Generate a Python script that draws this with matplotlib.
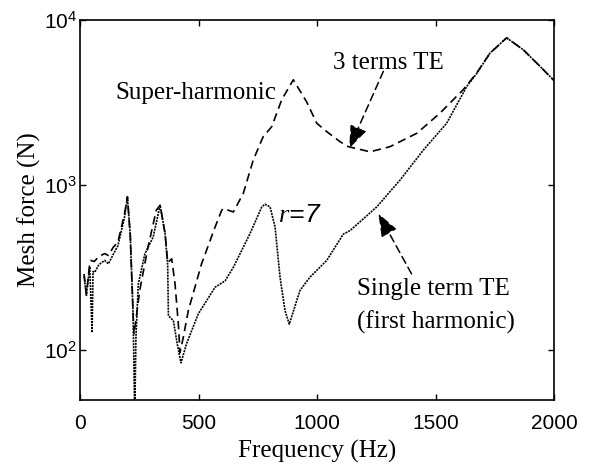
import matplotlib
matplotlib.use("Agg")
import matplotlib.pyplot as plt
from matplotlib.ticker import FixedLocator, NullLocator

plt.rcParams['mathtext.fontset'] = 'custom'
plt.rcParams['mathtext.rm'] = 'Liberation Sans'
plt.rcParams['mathtext.it'] = 'Liberation Serif:italic'
plt.rcParams['mathtext.sf'] = 'Liberation Sans:italic'

# 3 terms TE (dashed)
freq_3terms = [17, 27, 41, 45, 60, 80, 104, 120, 140, 160, 188, 200, 212, 224, 228,
               235, 252, 287, 322, 338, 359, 370, 387, 401, 415, 422, 436, 457, 513,
               570, 598, 605, 647, 689, 731, 773, 809, 851, 900, 956, 999, 1041, 1097,
               1132, 1224, 1308, 1421, 1519, 1617, 1674, 1730, 1800, 1870, 1941, 2000]
force_3terms = [290, 220, 334, 350, 345, 370, 385, 375, 420, 452, 673, 849, 500, 166, 125,
                150, 230, 422, 705, 756, 509, 340, 358, 252, 144, 97, 120, 174, 334,
                558, 705, 722, 688, 891, 1420, 1966, 2260, 3287, 4345, 3200, 2370, 2110, 1834,
                1710, 1592, 1710, 2060, 2730, 3785, 4780, 6300, 7800, 6610, 5240, 4300]

# Single term TE (first harmonic)
freq_single = [17, 27, 41, 51, 55, 62, 80, 104, 120, 140, 160, 188, 200, 212, 224, 231,
               236, 246, 274, 309, 338, 359, 370, 373, 394, 410, 426, 450, 499, 570, 612,
               647, 717, 767, 781, 802, 823, 844, 865, 883, 928, 970, 1041, 1111, 1139,
               1252, 1350, 1449, 1547, 1632, 1674, 1730, 1800, 1870, 1941, 2000]
force_single = [280, 215, 320, 128, 300, 297, 330, 350, 334, 380, 430, 641, 849, 500, 166, 40,
                120, 252, 385, 486, 756, 509, 327, 162, 151, 110, 84, 110, 166, 241, 263,
                318, 508, 738, 766, 738, 558, 277, 174, 144, 230, 277, 350, 505, 530,
                738, 1072, 1632, 2370, 3960, 4750, 6300, 7800, 6610, 5240, 4300]

x_ticks = [0, 500, 1000, 1500, 2000]
y_ticks = [1e2, 1e3, 1e4]
y_tick_labels = [r'$10^2$', r'$10^3$', r'$10^4$']

fig = plt.figure(figsize=(5.9, 4.7), dpi=100)
ax = fig.add_axes([80/590, 70/470, 474/590, 380/470])

ax.plot(freq_single, force_single, color='black', lw=1.2, ls=(0, (1.2, 0.6)))
ax.plot(freq_3terms, force_3terms, color='black', lw=1.2, ls=(0, (5, 3)))

ax.set_yscale('log')
ax.set_xlim(0, 2000)
ax.set_ylim(50, 1e4)
ax.xaxis.set_major_locator(FixedLocator(x_ticks))
ax.yaxis.set_major_locator(FixedLocator(y_ticks))
ax.yaxis.set_minor_locator(NullLocator())
ax.set_yticklabels(y_tick_labels)
ax.tick_params(direction='in', length=4, width=1, top=True, right=True, labelsize=15)
ax.tick_params(axis='x', pad=10)
ax.tick_params(axis='y', pad=2)
for lab in ax.get_xticklabels():
    lab.set_fontfamily('Liberation Sans')
for sp in ax.spines.values():
    sp.set_linewidth(1.2)

serif = 'Liberation Serif'
ax.set_xlabel('Frequency (Hz)', fontfamily=serif, fontsize=18, labelpad=5)
ax.set_ylabel('Mesh force (N)', fontfamily=serif, fontsize=18, labelpad=2.5)

ax.text(148, 3620, 'Super-harmonic', fontfamily=serif, fontsize=18, va='center', ha='left')
ax.text(1300, 5520, '3 terms TE', fontfamily=serif, fontsize=18, va='center', ha='center')
ax.text(835, 658, r'$\mathit{r}\!\mathsf{=}\!\mathsf{7}$', fontsize=19, va='center', ha='left')
ax.text(1167, 236, 'Single term TE', fontfamily=serif, fontsize=18, va='center', ha='left')
ax.text(1167, 147, '(first harmonic)', fontfamily=serif, fontsize=18, va='center', ha='left')

arrow_kw = dict(arrowstyle='-|>,head_length=1.0,head_width=0.38', color='black',
                lw=1.1, ls=(0, (5, 3)), shrinkA=0, shrinkB=0, mutation_scale=14)
ax.annotate('', xy=(1136, 1670), xytext=(1280, 4890), arrowprops=arrow_kw)
ax.annotate('', xy=(1259, 673), xytext=(1399, 290), arrowprops=arrow_kw)

fig.savefig('out.png', dpi=100)
